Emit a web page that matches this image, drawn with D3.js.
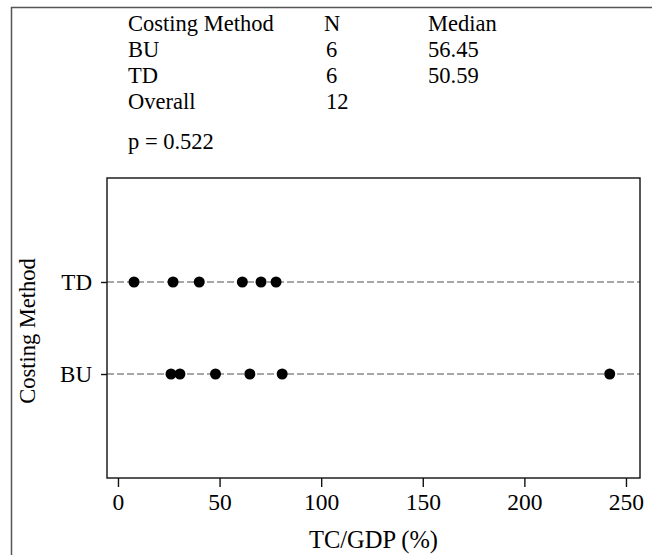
<!DOCTYPE html>
<html lang="en">
<head>
    <meta charset="UTF-8">
    <title>TC/GDP by Costing Method</title>
    <script src="https://d3js.org/d3.v7.min.js"></script>
    <style>
        body { margin: 0; background: #fff; }
        svg text { font-family: "Liberation Serif", "Times New Roman", serif; fill: #000; }
    </style>
</head>
<body>
    <div id="chart"></div>
    <script>
        // data
        const categories = ["TD", "BU"];
        const tdValues = [7.9, 27.1, 40.0, 61.2, 70.4, 77.8];
        const buValues = [26.1, 30.5, 48.0, 64.9, 80.8, 242.0];
        const xTicks = [0, 50, 100, 150, 200, 250];
        const tableHeader = ["Costing Method", "N", "Median"];
        const tableRows = [
            ["BU", "6", "56.45"],
            ["TD", "6", "50.59"],
            ["Overall", "12", ""]
        ];
        const pText = "p = 0.522";

        const W = 652, H = 555;
        const box = { left: 107, right: 640, top: 178, bottom: 478 };

        const svg = d3.select("#chart").append("svg")
            .attr("width", W)
            .attr("height", H);

        // outer frame (top and left edges only are visible)
        svg.append("path")
            .attr("d", "M11.5,555 L11.5,7.5 L652,7.5")
            .attr("fill", "none")
            .attr("stroke", "#555")
            .attr("stroke-width", 1.5);

        // summary table at top
        const colX = [128, 324, 428];
        const rowY = [31, 57, 83, 109];
        const table = svg.append("g").style("font-size", "22.5px");
        tableHeader.forEach(function (t, i) {
            table.append("text").attr("x", colX[i]).attr("y", rowY[0]).text(t);
        });
        tableRows.forEach(function (row, r) {
            row.forEach(function (t, i) {
                table.append("text")
                    .attr("x", colX[i] + (i === 1 ? 2 : 0))
                    .attr("y", rowY[r + 1])
                    .text(t);
            });
        });
        table.append("text").attr("x", 128).attr("y", 149).text(pText);

        // scales
        const x = d3.scaleLinear()
            .domain([-5.4, 256.9])
            .range([box.left, box.right]);

        const y = d3.scalePoint()
            .domain(categories)
            .range([box.top, box.bottom])
            .padding(1.13);

        // dashed reference lines per category
        svg.selectAll(".ref")
            .data(categories)
            .enter()
            .append("line")
            .attr("class", "ref")
            .attr("x1", box.left)
            .attr("x2", box.right)
            .attr("y1", function (d) { return y(d); })
            .attr("y2", function (d) { return y(d); })
            .attr("stroke", "#8a8a8a")
            .attr("stroke-width", 1.3)
            .attr("stroke-dasharray", "7,3");

        // plot box
        svg.append("rect")
            .attr("x", box.left)
            .attr("y", box.top)
            .attr("width", box.right - box.left)
            .attr("height", box.bottom - box.top)
            .attr("fill", "none")
            .attr("stroke", "#111")
            .attr("stroke-width", 1.4);

        // x axis
        const xAxis = svg.append("g")
            .attr("transform", "translate(0," + box.bottom + ")")
            .call(d3.axisBottom(x).tickValues(xTicks).tickSize(9).tickPadding(6));
        xAxis.select(".domain").remove();
        xAxis.selectAll("line").attr("stroke", "#111").attr("stroke-width", 1.4);
        xAxis.selectAll("text")
            .style("font-family", "Liberation Serif, serif")
            .style("font-size", "23.5px")
            .attr("fill", "#000");

        // y axis
        const yAxis = svg.append("g")
            .attr("transform", "translate(" + box.left + ",0)")
            .call(d3.axisLeft(y).tickSize(6).tickPadding(9));
        yAxis.select(".domain").remove();
        yAxis.selectAll("line").attr("stroke", "#111").attr("stroke-width", 1.4);
        yAxis.selectAll("text")
            .style("font-family", "Liberation Serif, serif")
            .style("font-size", "23px")
            .attr("fill", "#000");

        // points
        const points = [];
        tdValues.forEach(function (v) { points.push({ cat: "TD", v: v }); });
        buValues.forEach(function (v) { points.push({ cat: "BU", v: v }); });

        svg.selectAll(".dot")
            .data(points)
            .enter()
            .append("circle")
            .attr("class", "dot")
            .attr("cx", function (d) { return x(d.v); })
            .attr("cy", function (d) { return y(d.cat); })
            .attr("r", 5.5)
            .attr("fill", "#000");

        // axis titles
        svg.append("text")
            .attr("x", (box.left + box.right) / 2)
            .attr("y", 548)
            .attr("text-anchor", "middle")
            .style("font-size", "24.5px")
            .text("TC/GDP (%)");

        svg.append("text")
            .attr("transform", "translate(35,331) rotate(-90)")
            .attr("text-anchor", "middle")
            .style("font-size", "22.5px")
            .text("Costing Method");
    </script>
</body>
</html>
